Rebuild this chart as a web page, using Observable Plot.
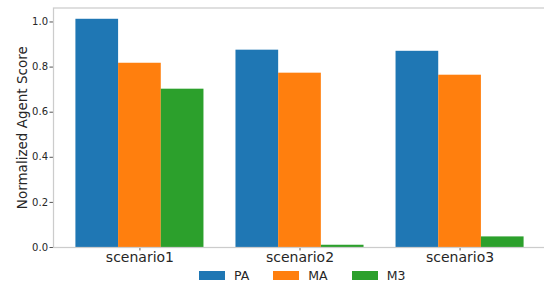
<!DOCTYPE html>
<html>
<head>
<meta charset="utf-8">
<script src="https://cdn.jsdelivr.net/npm/d3@7"></script>
<script src="https://cdn.jsdelivr.net/npm/@observablehq/plot@0.6"></script>
<style>
  html, body { margin: 0; padding: 0; background: #fff; }
  body { width: 544px; height: 284px; overflow: hidden; font-family: "DejaVu Sans", sans-serif; }
  #legend { display: flex; align-items: center; height: 18px; padding-left: 199px; font-size: 12.5px; color: #262626; }
  #legend .item { display: flex; align-items: center; }
  #legend .sw { width: 26px; height: 9px; margin-right: 9px; }
  #legend .lab { margin-right: 24px; }
</style>
</head>
<body>
<div id="chart"></div>
<div id="legend"></div>
<script>
const scenarios = ["scenario1", "scenario2", "scenario3"];
const series = ["PA", "MA", "M3"];
const PA = [1.012, 0.875, 0.870];
const MA = [0.817, 0.773, 0.764];
const M3 = [0.702, 0.010, 0.047];
const colors = ["#1f77b4", "#ff7f0e", "#2ca02c"];
const yTicks = [0, 0.2, 0.4, 0.6, 0.8, 1.0];
const yLabel = "Normalized Agent Score";

const values = {PA, MA, M3};
const barWidth = 0.8 / series.length;
const data = [];
scenarios.forEach((s, i) => {
  series.forEach((k, j) => {
    const center = i + (j - (series.length - 1) / 2) * barWidth;
    data.push({scenario: s, series: k, x1: center - barWidth / 2, x2: center + barWidth / 2, value: values[k][i]});
  });
});

const chart = Plot.plot({
  width: 544,
  height: 266,
  marginLeft: 53,
  marginRight: -2,
  marginTop: 7.5,
  marginBottom: 19,
  style: {fontFamily: "DejaVu Sans, sans-serif", color: "#262626", background: "#fff"},
  x: {domain: [-0.54, scenarios.length - 1 + 0.54], axis: null},
  y: {domain: [0, 1.062], axis: null},
  color: {domain: series, range: colors},
  marks: [
    Plot.rectY(data, {x1: "x1", x2: "x2", y1: 0, y2: "value", fill: "series"}),
    Plot.axisY({ticks: yTicks, tickFormat: d => d.toFixed(1), tickSize: 3.5, tickPadding: 2, fontSize: 10, label: null, stroke: "#555"}),
    Plot.axisX({ticks: scenarios.map((_, i) => i), tickFormat: i => scenarios[i], tickSize: 3.5, tickPadding: 1.5, fontSize: 14, label: null, stroke: "#555"}),
    Plot.text([yLabel], {frameAnchor: "left", textAnchor: "middle", lineAnchor: "middle", rotate: -90, dx: -31, fontSize: 13.5, fill: "#262626"}),
    Plot.frame({stroke: "#cccccc", strokeWidth: 1.25})
  ]
});
document.getElementById("chart").appendChild(chart);

const legend = document.getElementById("legend");
series.forEach((k, j) => {
  const item = document.createElement("div");
  item.className = "item";
  const sw = document.createElement("div");
  sw.className = "sw";
  sw.style.background = colors[j];
  const lab = document.createElement("span");
  lab.className = "lab";
  lab.textContent = k;
  item.appendChild(sw);
  item.appendChild(lab);
  legend.appendChild(item);
});
</script>
</body>
</html>
